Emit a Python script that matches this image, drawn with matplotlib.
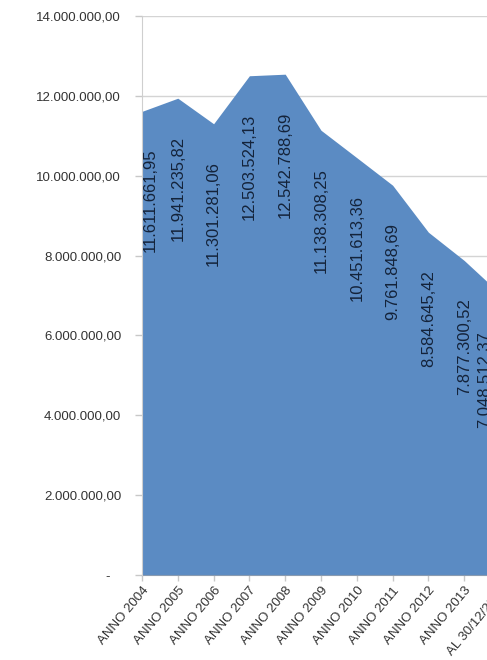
import numpy as np
import matplotlib.pyplot as plt
from matplotlib.ticker import FuncFormatter

# data
years = ['ANNO 2004', 'ANNO 2005', 'ANNO 2006', 'ANNO 2007', 'ANNO 2008',
         'ANNO 2009', 'ANNO 2010', 'ANNO 2011', 'ANNO 2012', 'ANNO 2013',
         'AL 30/12/2014']
values = [11611661.95, 11941235.82, 11301281.06, 12503524.13, 12542788.69,
          11138308.25, 10451613.36, 9761848.69, 8584645.42, 7877300.52,
          7048512.37]
y_ticks = [0, 2000000, 4000000, 6000000, 8000000, 10000000, 12000000, 14000000]


def it_format(v, pos=None):
    # italian style number: 12.503.524,13 ; zero shown as a dash
    if v == 0:
        return '-   '
    s = '{:,.2f}'.format(v)
    return s.replace(',', 'X').replace('.', ',').replace('X', '.')


plt.rcParams['font.family'] = ['Liberation Sans', 'DejaVu Sans']

fig = plt.figure(figsize=(4.87, 6.6), dpi=100)
# plot area runs off the right edge, like the cropped original
ax = fig.add_axes([142 / 487, 85 / 660, 358 / 487, 559 / 660])

x = np.arange(len(values))
ax.fill_between(x, values, 0, color='#5b8bc3', linewidth=0, zorder=2)

ax.set_xlim(0, len(values) - 1)
ax.set_ylim(0, 14000000)
ax.set_yticks(y_ticks)
ax.yaxis.set_major_formatter(FuncFormatter(it_format))
ax.grid(axis='y', color='#d4d4d4', linewidth=1.0, zorder=0)
ax.set_axisbelow(True)

ax.set_xticks(x)
ax.set_xticklabels(years, rotation=50, ha='right', rotation_mode='anchor')

for s in ['top', 'right']:
    ax.spines[s].set_visible(False)
ax.spines['left'].set_color('#cfcfcf')
ax.spines['bottom'].set_color('#8a9bb0')
ax.spines['left'].set_zorder(3)

ax.tick_params(axis='y', colors='#c8c8c8', labelcolor='#333333', labelsize=9.5,
               length=5, width=1, pad=10)
ax.tick_params(axis='x', colors='#c8c8c8', labelcolor='#333333', labelsize=9.5,
               length=4, width=1, pad=3)

# data labels, vertical, just under the top of the area
for i, v in enumerate(values):
    dx = 0
    if i == 0:
        dx = 6
    if i == len(values) - 1:
        dx = -11
    ax.annotate(it_format(v), (i, v), xytext=(dx, -27), textcoords='offset points',
                rotation=90, ha='center', va='top', fontsize=12,
                color='#14233a', zorder=4, annotation_clip=False)

fig.savefig('out.png', dpi=100)
